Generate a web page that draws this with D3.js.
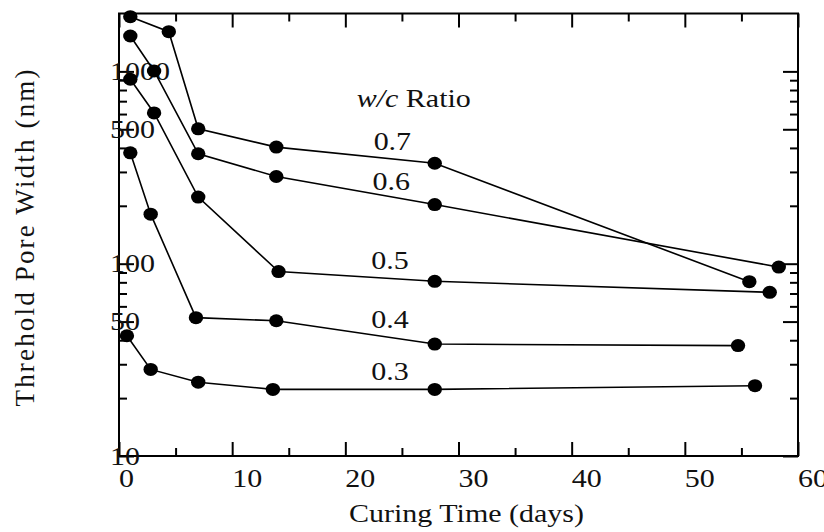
<!DOCTYPE html>
<html>
<head>
<meta charset="utf-8">
<script src="https://cdn.jsdelivr.net/npm/d3@7"></script>
<style>
  body { margin: 0; background: #fff; }
  text { font-family: "Times New Roman", "Liberation Serif", Tinos, "Nimbus Roman", Times, serif; fill: #111; }
</style>
</head>
<body>
<svg id="chart" width="824" height="532"></svg>
<script>
// w/c ratios and their curves
const ratios = ["0.7", "0.6", "0.5", "0.4", "0.3"];
const days07 = [1.0, 4.4, 7.0, 13.9, 27.9, 55.7];
const width07 = [1925, 1609, 503, 404, 333, 80.6];
const days06 = [1.0, 3.1, 7.0, 13.9, 27.9, 58.3];
const width06 = [1528, 1005, 373, 284, 203, 96];
const days05 = [1.0, 3.1, 7.0, 14.1, 27.9, 57.5];
const width05 = [910, 608, 222, 91, 81, 71];
const days04 = [1.0, 2.8, 6.8, 13.9, 27.9, 54.7];
const width04 = [377, 181, 52.4, 50.5, 38.2, 37.5];
const days03 = [0.7, 2.8, 7.0, 13.6, 27.9, 56.2];
const width03 = [42.2, 28.2, 24.2, 22.2, 22.2, 23.2];

// where the ratio labels sit (days, nm)
const labelDays = [22.5, 22.4, 22.3, 22.3, 22.3];
const labelWidth = [390, 241, 93.6, 46.5, 24.8];

const xMajor = [0, 10, 20, 30, 40, 50, 60];
const xMinor = [5, 15, 25, 35, 45, 55];
const yMajor = [10, 50, 100, 500, 1000];
const yMinor = [20, 30, 40, 60, 70, 80, 90, 200, 300, 400, 600, 700, 800, 900];

const series = [
  {days: days07, width: width07},
  {days: days06, width: width06},
  {days: days05, width: width05},
  {days: days04, width: width04},
  {days: days03, width: width03}
];

const svg = d3.select("#chart");
const plotLeft = 119, plotRight = 798, plotTop = 13.5, plotBottom = 456;

const xScale = d3.scaleLinear().domain([0, 60]).range([plotLeft, plotRight]);
const yScale = d3.scaleLog().domain([10, 2000]).range([plotBottom, plotTop]);

// frame
svg.append("rect")
  .attr("x", plotLeft).attr("y", plotTop)
  .attr("width", plotRight - plotLeft).attr("height", plotBottom - plotTop)
  .attr("fill", "none").attr("stroke", "#000").attr("stroke-width", 2);

function ticks(axis, vals, size, pos) {
  const g = svg.append("g").attr("transform", pos).call(axis.tickValues(vals).tickSize(-size).tickFormat(""));
  g.select(".domain").remove();
  g.selectAll("line").attr("stroke", "#000").attr("stroke-width", 2);
  return g;
}

ticks(d3.axisBottom(xScale), xMajor, 14, `translate(0,${plotBottom})`);
ticks(d3.axisBottom(xScale), xMinor, 8, `translate(0,${plotBottom})`);
ticks(d3.axisTop(xScale), xMajor, 14, `translate(0,${plotTop})`);
ticks(d3.axisTop(xScale), xMinor, 8, `translate(0,${plotTop})`);
ticks(d3.axisLeft(yScale), yMajor, 15, `translate(${plotLeft},0)`);
ticks(d3.axisLeft(yScale), yMinor, 8, `translate(${plotLeft},0)`);
ticks(d3.axisRight(yScale), yMajor, 15, `translate(${plotRight},0)`);
ticks(d3.axisRight(yScale), yMinor, 8, `translate(${plotRight},0)`);

// tick labels (they start at the tick and are a bit wide)
svg.append("g").selectAll("text").data(xMajor).join("text")
  .attr("transform", d => `translate(${xScale(d)},487) scale(1.2,1)`)
  .attr("font-size", 25)
  .text(d => d);

svg.append("g").selectAll("text").data(yMajor).join("text")
  .attr("transform", d => `translate(110,${yScale(d) + 8.5}) scale(1.2,1)`)
  .attr("font-size", 25)
  .text(d => d);

// curves
const line = d3.line().x(d => xScale(d[0])).y(d => yScale(d[1]));
series.forEach(s => {
  const pts = s.days.map((d, i) => [d, s.width[i]]);
  svg.append("path").datum(pts)
    .attr("d", line)
    .attr("fill", "none").attr("stroke", "#000").attr("stroke-width", 1.6);
  svg.append("g").selectAll("ellipse").data(pts).join("ellipse")
    .attr("cx", d => xScale(d[0])).attr("cy", d => yScale(d[1]))
    .attr("rx", 7.2).attr("ry", 6.5).attr("fill", "#000");
});

// ratio labels
svg.append("g").selectAll("text").data(ratios).join("text")
  .attr("transform", (d, i) => `translate(${xScale(labelDays[i])},${yScale(labelWidth[i])}) scale(1.2,1)`)
  .attr("font-size", 25)
  .text(d => d);

const head = svg.append("text")
  .attr("transform", `translate(${xScale(21.0)},${yScale(653)}) scale(1.2,1)`)
  .attr("font-size", 25);
head.append("tspan").attr("font-style", "italic").text("w/c");
head.append("tspan").text(" Ratio");

// axis titles
svg.append("text")
  .attr("transform", `translate(${(plotLeft + plotRight) / 2 + 8},522) scale(1.2,1)`)
  .attr("text-anchor", "middle")
  .attr("font-size", 25)
  .text("Curing Time (days)");

svg.append("text")
  .attr("transform", "translate(34,238) rotate(-90)")
  .attr("text-anchor", "middle")
  .attr("font-size", 27)
  .attr("textLength", 337)
  .text("Threhold Pore Width (nm)");
</script>
</body>
</html>
